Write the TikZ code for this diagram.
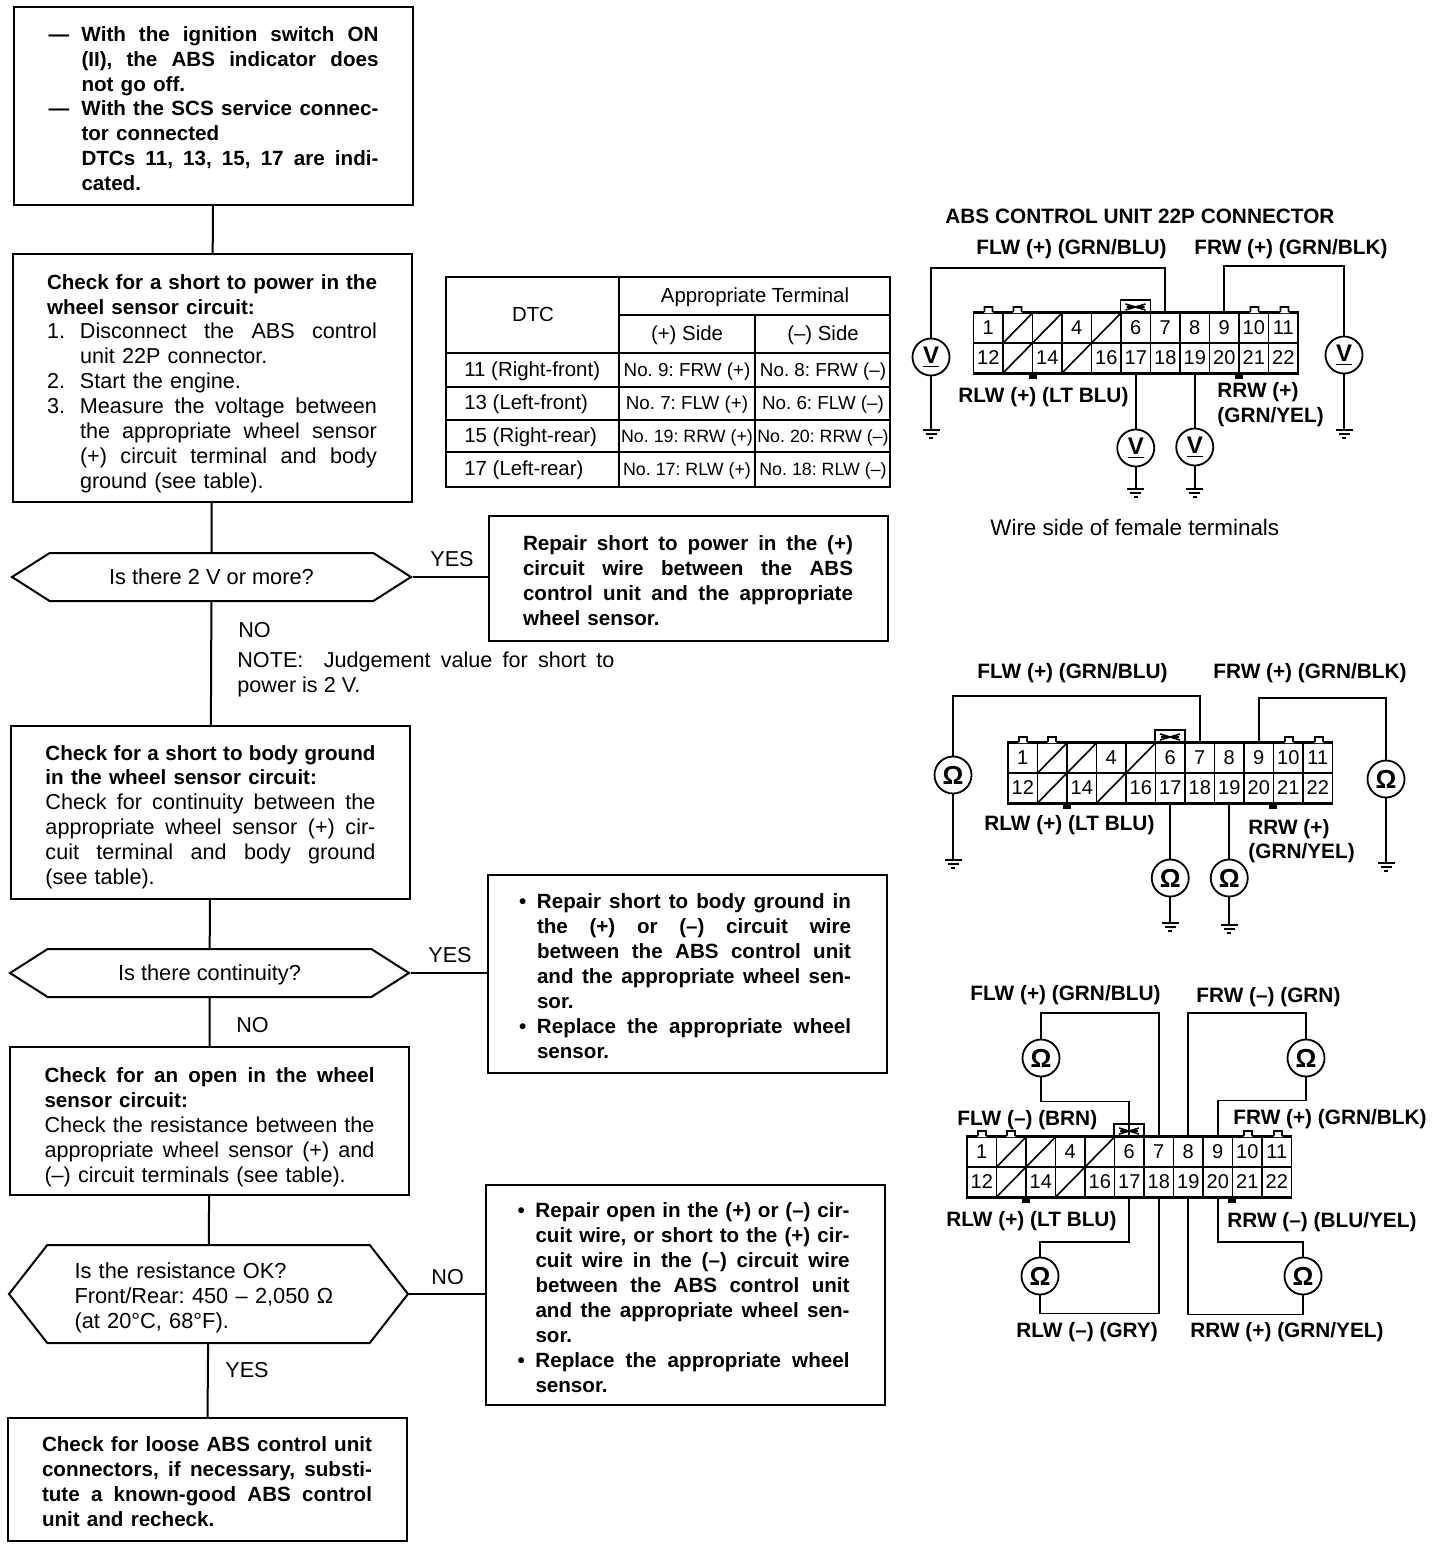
\documentclass[tikz,border=0pt]{standalone}
\usepackage{fontspec}
\setmainfont{Liberation Sans}
\usetikzlibrary{shapes.symbols}
\newcommand{\fl}[2]{\makebox[#1][s]{\spaceskip=0pt\relax #2}}
\newcommand{\jl}[1]{\fl{165pt}{#1}}
\newcommand{\il}[1]{\hspace*{16.5pt}\fl{148.5pt}{#1}}
\newcommand{\hl}[1]{\fl{148.5pt}{#1}}
\newcommand{\hd}[1]{\makebox[16.5pt][l]{#1}}
\newcommand{\bl}[1]{\hspace*{7.5pt}\fl{157pt}{#1}}
\newcommand{\bm}[1]{\fl{157pt}{#1}}
\newcommand{\bu}{\makebox[7.5pt][l]{\hspace{-1.5pt}•}}
\newcommand{\bt}[1]{{\fontsize{10.3}{12.45}\selectfont\bfseries #1}}
\newcommand{\vsym}{{\fontsize{12}{13}\selectfont\underline{V}}}
\tikzset{
    flowbox/.style={draw, line width=1pt, inner xsep=0pt, inner ysep=0pt,
        text width=165pt, minimum width=199.5pt, font=\fontsize{10.8}{12.45}\selectfont},
    flowq/.style={draw, line width=1pt, signal, signal to=west and east, inner sep=0pt,
        minimum width=199.5pt, font=\fontsize{10.9}{12.45}\selectfont},
    qline/.style={minimum height=24pt, signal pointer angle=65, text height=9pt, text depth=1.5pt},
    flowline/.style={line width=1pt},
    lab/.style={inner sep=0pt, anchor=west, text height=9pt, text depth=1.5pt,
        font=\fontsize{10.4}{12.35}\selectfont\bfseries},
    plain/.style={inner sep=0pt, anchor=west, text height=9pt, text depth=1.5pt,
        font=\fontsize{10.8}{12.35}\selectfont},
    tabcell/.style={inner sep=0pt, text height=8pt, text depth=1.5pt, font=\fontsize{10.2}{11}\selectfont},
    wire/.style={line width=0.9pt},
    meter/.style={draw, circle, line width=0.9pt, inner sep=0pt, minimum size=18.5pt,
        fill=white, font=\fontsize{13}{14}\selectfont\bfseries},
    termcell/.style={draw, line width=0.8pt, inner sep=0pt, minimum width=14.75pt,
        minimum height=15pt, font=\fontsize{10}{11}\selectfont},
    pics/earth/.style={code={
        \draw[wire] (-8.5,0) -- (8.5,0);
        \draw[wire] (-5.5,4) -- (5.5,4);
        \draw[wire] (-2,8) -- (2,8);
    }},
    pics/absconn/.style={code={
        \foreach \n/\lab [count=\c] in {1/1,2/,3/,4/4,5/,6/6,7/7,8/8,9/9,10/10,11/11}
            \node[termcell] (t\n) at (\c*29.5-14.75,15) {\lab};
        \foreach \n/\lab [count=\c] in {12/12,13/,14/14,15/,16/16,17/17,18/18,19/19,20/20,21/21,22/22}
            \node[termcell] (t\n) at (\c*29.5-14.75,45) {\lab};
        \foreach \n in {2,3,5,13,15}
            \draw[line width=0.8pt] (t\n.south west) -- (t\n.north east);
        \draw[line width=1.4pt] (t1.north west) -- (t11.north east);
        \draw[line width=1.4pt] (t12.south west) -- (t22.south east);
        % tabs on the shell
        \foreach \tx in {15,44,281,311}
            \draw[line width=0.8pt, fill=white] (\tx-6,0) -- (\tx-4,-2) -- (\tx-4,-6) -- (\tx+4,-6) -- (\tx+4,-2) -- (\tx+6,0);
        \foreach \tx in {59,265}
            \fill (\tx-4,60) rectangle (\tx+4,66);
        \draw[line width=0.9pt] (147,0) |- (177,-13) -- (177,0);
        \draw[line width=0.8pt] (152,-9) -- (172,-3) (152,-3) -- (172,-9) (153,-6) -- (171,-6);
    }}
}
\frenchspacing
\begin{document}
\begin{tikzpicture}[x=0.5pt, y=-0.5pt]
    \useasboundingbox (0,0) rectangle (1440,1548);

    % left column
    \node[flowbox, minimum height=99pt] (start) at (213.5,106) {%
      \rule{0pt}{10pt}\bt{\hd{—}\hl{With the ignition switch ON}\\
      \il{(II), the ABS indicator does}\\
      \hspace*{16.5pt}not go off.\\
      \hd{—}\hl{With the SCS service connec-}\\
      \hspace*{16.5pt}tor connected\\
      \il{DTCs 11, 13, 15, 17 are indi-}\\
      \hspace*{16.5pt}cated.}};
    \node[flowbox, minimum height=124pt] (power) at (212,378) {%
      \rule{0pt}{13pt}\bt{\jl{Check for a short to power in the}\\
      wheel sensor circuit:}\\
      \hd{1.}\hl{Disconnect the ABS control}\\
      \hspace*{16.5pt}unit 22P connector.\\
      \hd{2.}Start the engine.\\
      \hd{3.}\hl{Measure the voltage between}\\
      \il{the appropriate wheel sensor}\\
      \il{(+) circuit terminal and body}\\
      \hspace*{16.5pt}ground (see table).};
    \node[flowq, qline] (qpower) at (211.5,577) {Is there 2 V or more?};
    \node[flowbox, minimum height=86.5pt] (ground) at (210.5,812.5) {%
      \rule{0pt}{12pt}\bt{\jl{Check for a short to body ground}\\
      in the wheel sensor circuit:}\\
      \jl{Check for continuity between the}\\
      \jl{appropriate wheel sensor (+) cir-}\\
      \jl{cuit terminal and body ground}\\
      (see table).};
    \node[flowq, qline] (qcont) at (209.5,973) {Is there continuity?};
    \node[flowbox, minimum height=74pt] (open) at (209.5,1121) {%
      \rule{0pt}{14pt}\bt{\jl{Check for an open in the wheel}\\
      sensor circuit:}\\
      \jl{Check the resistance between the}\\
      \jl{appropriate wheel sensor (+) and}\\
      (–) circuit terminals (see table).};
    \node[flowq, minimum height=49pt, signal pointer angle=104, text width=134pt, align=left] (qres) at (208.5,1294) {%
      \rule{0pt}{12pt}Is the resistance OK?\\
      Front/Rear: 450 – 2,050 Ω\\
      (at 20°C, 68°F).};
    \node[flowbox, minimum height=61.5pt] (recheck) at (207,1479.5) {%
      \rule{0pt}{9.5pt}\bt{\jl{Check for loose ABS control unit}\\
      \jl{connectors, if necessary, substi-}\\
      \jl{tute a known-good ABS control}\\
      unit and recheck.}};

    % right column
    \node[flowbox, minimum height=62.5pt] (fixpower) at (688,578.5) {%
      \rule{0pt}{9.5pt}\bt{\jl{Repair short to power in the (+)}\\
      \jl{circuit wire between the ABS}\\
      \jl{control unit and the appropriate}\\
      wheel sensor.}};
    \node[flowbox, minimum height=99pt] (fixground) at (687,974) {%
      \rule{0pt}{9.5pt}\bt{\bu\bm{Repair short to body ground in}\\
      \bl{the (+) or (–) circuit wire}\\
      \bl{between the ABS control unit}\\
      \bl{and the appropriate wheel sen-}\\
      \hspace*{7.5pt}sor.\\
      \bu\bm{Replace the appropriate wheel}\\
      \hspace*{7.5pt}sensor.}};
    \node[flowbox, minimum height=110pt] (fixopen) at (685.5,1295) {%
      \rule{0pt}{10pt}\bt{\bu\bm{Repair open in the (+) or (–) cir-}\\
      \bl{cuit wire, or short to the (+) cir-}\\
      \bl{cuit wire in the (–) circuit wire}\\
      \bl{between the ABS control unit}\\
      \bl{and the appropriate wheel sen-}\\
      \hspace*{7.5pt}sor.\\
      \bu\bm{Replace the appropriate wheel}\\
      \hspace*{7.5pt}sensor.}};

    \draw[flowline] (start) -- (power);
    \draw[flowline] (power) -- (qpower);
    \draw[flowline] (qpower) -- (ground);
    \draw[flowline] (ground) -- (qcont);
    \draw[flowline] (qcont) -- (open);
    \draw[flowline] (open) -- (qres);
    \draw[flowline] (qres) -- (recheck);
    \draw[flowline] (qpower.east) -- (qpower.east -| fixpower.west);
    \draw[flowline] (qcont.east) -- (qcont.east -| fixground.west);
    \draw[flowline] (qres.east) -- (qres.east -| fixopen.west);

    \node[plain] (yesa) at (430,559) {YES};
    \node[plain] (noa) at (238,630) {NO};
    \node[plain] (note) at (237,660) {\makebox[188.5pt][s]{NOTE:\ \ Judgement value for short to}};
    \node[plain] (noteb) at (237,685) {power is 2 V.};
    \node[plain] (yesb) at (428,955) {YES};
    \node[plain] (nob) at (236,1025) {NO};
    \node[plain] (noc) at (431,1277) {NO};
    \node[plain] (yesc) at (225,1370) {YES};

    % table
    \draw[line width=1.4pt] (446,277) rectangle (890,487);
    \draw[line width=1.4pt] (446,353) -- (890,353);
    \draw[line width=1pt] (619,277) -- (619,487) (755,315) -- (755,487) (619,315) -- (890,315);
    \foreach \ya in {387,420,452}
        \draw[line width=1pt] (446,\ya) -- (890,\ya);
    \node[tabcell] (tdtc) at (533,315) {DTC};
    \node[tabcell] (tterm) at (755,296) {Appropriate Terminal};
    \node[tabcell] (tplus) at (687,334) {(+) Side};
    \node[tabcell] (tminus) at (823,334) {(–) Side};
    \foreach \row/\ya/\fs/\dtc/\pl/\mi in {
        a/370/9.4/11 (Right-front)/No. 9: FRW (+)/No. 8: FRW (–),
        b/403/9.4/13 (Left-front)/No. 7: FLW (+)/No. 6: FLW (–),
        c/436/8.9/15 (Right-rear)/No. 19: RRW (+)/No. 20: RRW (–),
        d/469/8.9/17 (Left-rear)/No. 17: RLW (+)/No. 18: RLW (–)}{
        \node[tabcell, anchor=west] (dtc\row) at (464,\ya) {\dtc};
        \node[tabcell, font=\fontsize{\fs}{11}\selectfont] (pl\row) at (687,\ya) {\pl};
        \node[tabcell, font=\fontsize{\fs}{11}\selectfont] (mi\row) at (823,\ya) {\mi};
    }

    % voltage check
    \node[lab] (title) at (945,216) {ABS CONTROL UNIT 22P CONNECTOR};
    \node[lab] (aflw) at (976,247) {FLW (+) (GRN/BLU)};
    \node[lab] (afrw) at (1194,247) {FRW (+) (GRN/BLK)};
    \node[lab] (arlw) at (958,395) {RLW (+) (LT BLU)};
    \node[lab] (arrw) at (1217,390) {RRW (+)};
    \node[lab] (arrwb) at (1217,415) {(GRN/YEL)};
    \node[plain, font=\fontsize{11.2}{12.35}\selectfont] (wireside) at (990,528) {Wire side of female terminals};
    \pic (cona) at (973.5,313) {absconn};
    \node[meter] (va) at (931,357) {\vsym};
    \node[meter] (vb) at (1344,355) {\vsym};
    \node[meter] (vc) at (1135.75,448) {\vsym};
    \node[meter] (vd) at (1194.75,447) {\vsym};
    \coordinate (ea) at (931,430);
    \coordinate (eb) at (1344,430);
    \coordinate (ec) at (1135.75,489);
    \coordinate (ed) at (1194.75,489);
    \foreach \e in {ea,eb,ec,ed}
        \pic at (\e) {earth};
    \draw[wire] (va.north) -- ++(0,-70) -| (conat7.north);
    \draw[wire] (conat9.north) -- ++(0,-46) -| (vb.north);
    \draw[wire] (conat17.south) -- (vc.north);
    \draw[wire] (conat19.south) -- (vd.north);
    \draw[wire] (va) -- (ea);
    \draw[wire] (vb) -- (eb);
    \draw[wire] (vc) -- (ec);
    \draw[wire] (vd) -- (ed);

    % continuity to ground
    \node[lab] (bflw) at (977,671) {FLW (+) (GRN/BLU)};
    \node[lab] (bfrw) at (1213,671) {FRW (+) (GRN/BLK)};
    \node[lab] (brlw) at (984,823) {RLW (+) (LT BLU)};
    \node[lab] (brrw) at (1248,827) {RRW (+)};
    \node[lab] (brrwb) at (1248,851) {(GRN/YEL)};
    \pic (conb) at (1008,743) {absconn};
    \node[meter] (oa) at (953,775) {Ω};
    \node[meter] (ob) at (1386,779) {Ω};
    \node[meter] (oc) at (1170.25,878) {Ω};
    \node[meter] (od) at (1229.25,878) {Ω};
    \coordinate (fa) at (953,860);
    \coordinate (fb) at (1386,863);
    \coordinate (fc) at (1170.25,923);
    \coordinate (fd) at (1229.25,925);
    \foreach \e in {fa,fb,fc,fd}
        \pic at (\e) {earth};
    \draw[wire] (oa.north) -- ++(0,-60) -| (conbt7.north);
    \draw[wire] (conbt9.north) -- ++(0,-44) -| (ob.north);
    \draw[wire] (conbt17.south) -- (oc.north);
    \draw[wire] (conbt19.south) -- (od.north);
    \draw[wire] (oa) -- (fa);
    \draw[wire] (ob) -- (fb);
    \draw[wire] (oc) -- (fc);
    \draw[wire] (od) -- (fd);

    % resistance
    \node[lab] (cflwp) at (970,993) {FLW (+) (GRN/BLU)};
    \node[lab] (cfrwm) at (1196,995) {FRW (–) (GRN)};
    \node[lab] (cflwm) at (957,1118) {FLW (–) (BRN)};
    \node[lab] (cfrwp) at (1233,1117) {FRW (+) (GRN/BLK)};
    \node[lab] (crlwp) at (946,1219) {RLW (+) (LT BLU)};
    \node[lab] (crrwm) at (1227,1220) {RRW (–) (BLU/YEL)};
    \node[lab] (crlwm) at (1016,1330) {RLW (–) (GRY)};
    \node[lab] (crrwp) at (1190,1330) {RRW (+) (GRN/YEL)};
    \pic (conc) at (967,1137) {absconn};
    \node[meter] (ra) at (1041,1058) {Ω};
    \node[meter] (rb) at (1306,1058) {Ω};
    \node[meter] (rc) at (1040,1276) {Ω};
    \node[meter] (rd) at (1303,1276) {Ω};
    \draw[wire] (ra.north) -- ++(0,-26) -| (conct7.north);
    \draw[wire] (ra.south) -- ++(0,24) -| (conct6.north);
    \draw[wire] (rb.north) -- ++(0,-26) -| (conct8.north);
    \draw[wire] (rb.south) -- ++(0,23) -| (conct9.north);
    \draw[wire] (rc.north) -- ++(0,-15) -| (conct17.south);
    \draw[wire] (rc.south) -- ++(0,18) -| (conct18.south);
    \draw[wire] (rd.north) -- ++(0,-15) -| (conct20.south);
    \draw[wire] (rd.south) -- ++(0,19) -| (conct19.south);
\end{tikzpicture}
\end{document}
